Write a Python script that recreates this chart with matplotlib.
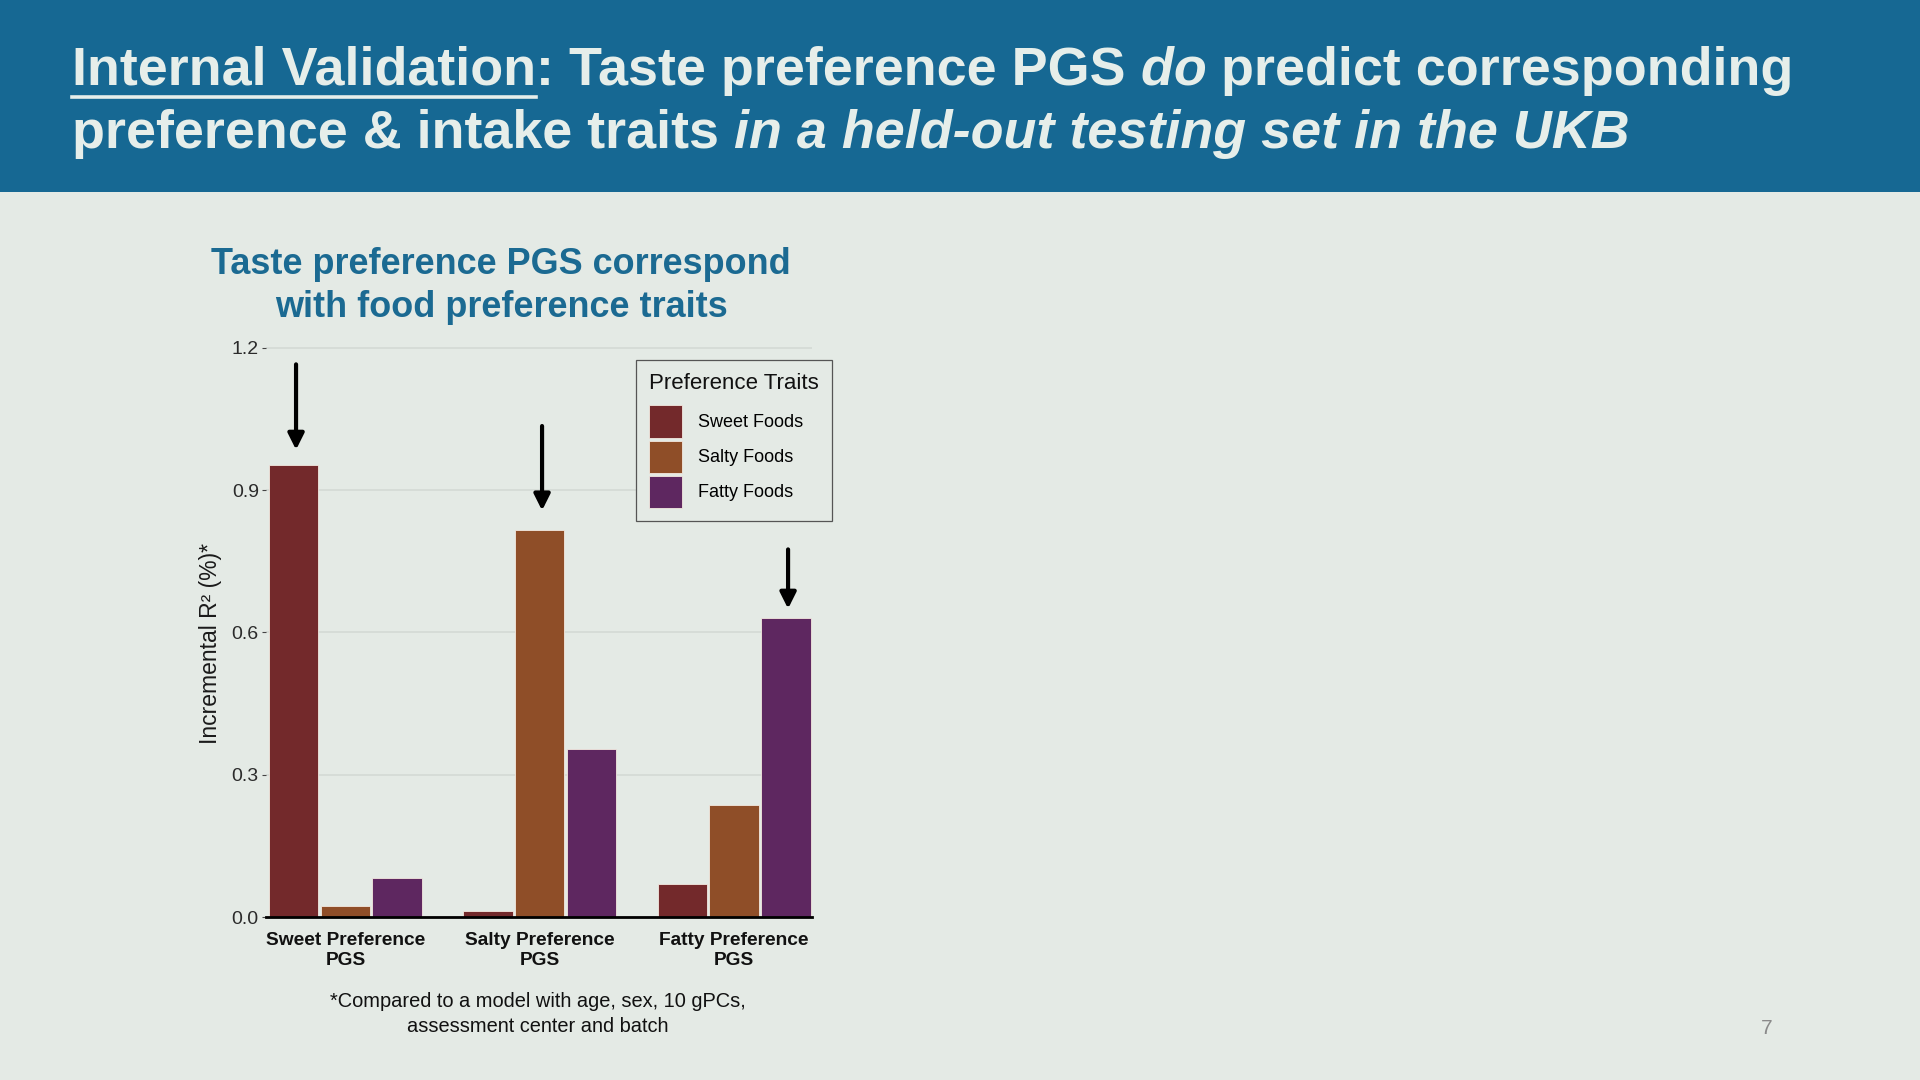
import numpy as np
import matplotlib.pyplot as plt
from matplotlib.lines import Line2D
from matplotlib.patches import Rectangle, Patch

# ── Data ──────────────────────────────────────────────────────
pgs_groups = ["Sweet Preference\nPGS", "Salty Preference\nPGS", "Fatty Preference\nPGS"]
traits = ["Sweet Foods", "Salty Foods", "Fatty Foods"]
sweet_r2 = [0.952, 0.013, 0.070]
salty_r2 = [0.023, 0.815, 0.237]
fatty_r2 = [0.083, 0.354, 0.630]
yticks = [0.0, 0.3, 0.6, 0.9, 1.2]
arrow_tail = [1.165, 1.035, 0.775]
arrow_head = [0.985, 0.857, 0.650]

# ── Style ─────────────────────────────────────────────────────
BG = '#e4eae5'
HEADER = '#166893'
TITLE_FG = '#e6eeea'
ACCENT = '#1b6a92'
COLORS = ['#73292b', '#8f4e28', '#5e2760']
FONT = 'Liberation Sans'

plt.rcParams['font.family'] = [FONT, 'DejaVu Sans']

fig = plt.figure(figsize=(19.2, 10.8), dpi=100)
fig.patch.set_facecolor(BG)

# header band
fig.patches.append(Rectangle((0, 0.822), 1, 0.178, transform=fig.transFigure,
                             facecolor=HEADER, edgecolor='none', zorder=0))

renderer = fig.canvas.get_renderer()
inv = fig.transFigure.inverted()


def rich_line(pieces, x0, y, size):
    x = x0
    ends = []
    for s, style in pieces:
        t = fig.text(x, y, s, fontsize=size, fontweight='bold', style=style,
                     color=TITLE_FG, ha='left', va='baseline')
        bb = t.get_window_extent(renderer)
        x = inv.transform((bb.x1, 0))[0]
        ends.append(x)
    return ends


line1 = [("Internal Validation", 'normal'), (":", 'normal'),
         (" Taste preference PGS", 'normal'), (" do", 'italic'),
         (" predict corresponding", 'normal')]
line2 = [("preference & intake traits", 'normal'),
         (" in a held-out testing set in the UKB", 'italic')]

ends = rich_line(line1, 0.0375, 0.9213, 38.8)
rich_line(line2, 0.0375, 0.8630, 38.8)
fig.lines.append(Line2D([0.0375, ends[0]], [0.9105, 0.9105], transform=fig.transFigure,
                        color=TITLE_FG, lw=2.6))

# chart title
fig.text(0.261, 0.7550, "Taste preference PGS correspond", fontsize=25.9,
         fontweight='bold', color=ACCENT, ha='center', va='center')
fig.text(0.261, 0.7153, "with food preference traits", fontsize=25.9,
         fontweight='bold', color=ACCENT, ha='center', va='center')

# ── Bars ──────────────────────────────────────────────────────
ax = fig.add_axes([0.1384, 0.1508, 0.2844, 0.536])
ax.set_facecolor('none')
x = np.arange(len(pgs_groups))
offset = 0.266
width = 0.255
series = [sweet_r2, salty_r2, fatty_r2]
for i, (vals, col, lbl) in enumerate(zip(series, COLORS, traits)):
    ax.bar(x + (i - 1) * offset, vals, width, color=col, edgecolor='#f3e9e0',
           linewidth=0.6, label=lbl, zorder=3)

# arrows over the matching trait
for i in range(len(pgs_groups)):
    xi = x[i] + (i - 1) * offset + 0.012
    ax.annotate('', xy=(xi, arrow_head[i]), xytext=(xi, arrow_tail[i]),
                arrowprops=dict(arrowstyle='-|>', color='black', lw=3.0,
                                mutation_scale=24, shrinkA=0, shrinkB=0),
                zorder=4)

ax.set_xlim(-0.41, 2.40)
ax.set_ylim(0, 1.22)
ax.set_yticks(yticks)
ax.set_yticklabels([f"{v:.1f}" for v in yticks], fontsize=14, color='#2b2b2b')
ax.set_xticks(x)
ax.set_xticklabels(pgs_groups, fontsize=13.8, fontweight='bold', color='#111111',
                   linespacing=1.22)
ax.tick_params(axis='y', length=3, width=0.8, color='#444444', pad=2)
ax.tick_params(axis='x', length=0, pad=11)
ax.yaxis.grid(True, color='#d3d8d4', lw=1.1, zorder=0)
ax.set_axisbelow(True)
for s in ['top', 'right', 'left']:
    ax.spines[s].set_visible(False)
ax.spines['bottom'].set_color('black')
ax.spines['bottom'].set_linewidth(2.0)
ax.spines['bottom'].set_zorder(5)

ax.set_ylabel("Incremental R² (%)*", fontsize=16.5, color='#1a1a1a')
ax.yaxis.set_label_coords(-0.08, 0.472)

handles = [Patch(facecolor=c, edgecolor='#f3e9e0', linewidth=0.6) for c in COLORS]
leg = ax.legend(handles, traits, title="Preference Traits", loc='upper left',
                bbox_to_anchor=(0.679, 0.9625), borderaxespad=0, fontsize=13,
                title_fontsize=16, frameon=True, fancybox=False,
                edgecolor='#555555', facecolor=BG, framealpha=1,
                handlelength=1.83, handleheight=2.4, labelspacing=0.14,
                handletextpad=0.85, borderpad=0.7, alignment='left')
leg._legend_box.sep = 8.5  # gap between legend title and keys
leg.get_frame().set_linewidth(0.9)
leg.get_title().set_color('#111111')

# footnote & page number
fig.text(0.28, 0.0725, "*Compared to a model with age, sex, 10 gPCs,", fontsize=14.4,
         color='#111111', ha='center', va='center')
fig.text(0.28, 0.0497, "assessment center and batch", fontsize=14.4,
         color='#111111', ha='center', va='center')
fig.text(0.920, 0.0476, "7", fontsize=15, color='#8a8a8a', ha='center', va='center')

fig.savefig('out.png', dpi=100, facecolor=BG)
